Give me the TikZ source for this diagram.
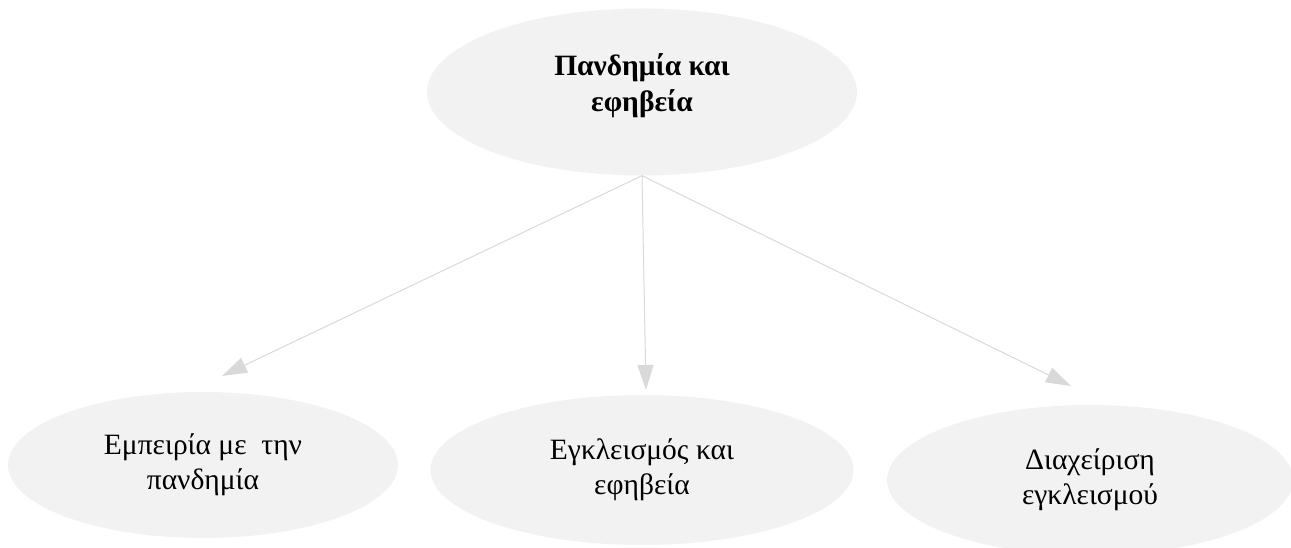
\documentclass[tikz,border=0pt]{standalone}
\usepackage{fontspec}
\setmainfont{Liberation Serif}
\usetikzlibrary{positioning,shapes.geometric,arrows.meta}
\definecolor{bubblegray}{RGB}{242,242,242}
\definecolor{linkgray}{RGB}{217,217,217}

\begin{document}
\begin{tikzpicture}[x=1pt,y=-1pt,
    topic/.style={ellipse, fill=bubblegray, align=center, inner sep=0pt,
      font=\fontsize{29.5}{35}\selectfont},
    link/.style={draw=linkgray, line width=1pt,
      -{Triangle[length=25pt,width=16pt]}}]
  \useasboundingbox (0,0) rectangle (1291,548);
  \clip (0,0) rectangle (1291,548);

  \node[topic, font=\fontsize{29.5}{36}\selectfont\bfseries,
        minimum width=430, minimum height=167] (root) at (642,92) {Πανδημία και\\εφηβεία\rule[-18pt]{0pt}{18pt}};
  \node[topic, minimum width=390, minimum height=146] (experience) at (203,465) {Εμπειρία με\ \ την\\πανδημία};
  \node[topic, minimum width=423, minimum height=150] (lockdown) at (642,470) {Εγκλεισμός και\\εφηβεία};
  \node[topic, minimum width=406, minimum height=150] (coping) at (1090,480) {Διαχείριση\\εγκλεισμού};

  \coordinate (tipL) at (222,376);
  \coordinate (tipM) at (646,390);
  \coordinate (tipR) at (1071,386);

  \draw[link] (root.south) -- (tipL);
  \draw[link] (root.south) -- (tipM);
  \draw[link] (root.south) -- (tipR);
\end{tikzpicture}
\end{document}
